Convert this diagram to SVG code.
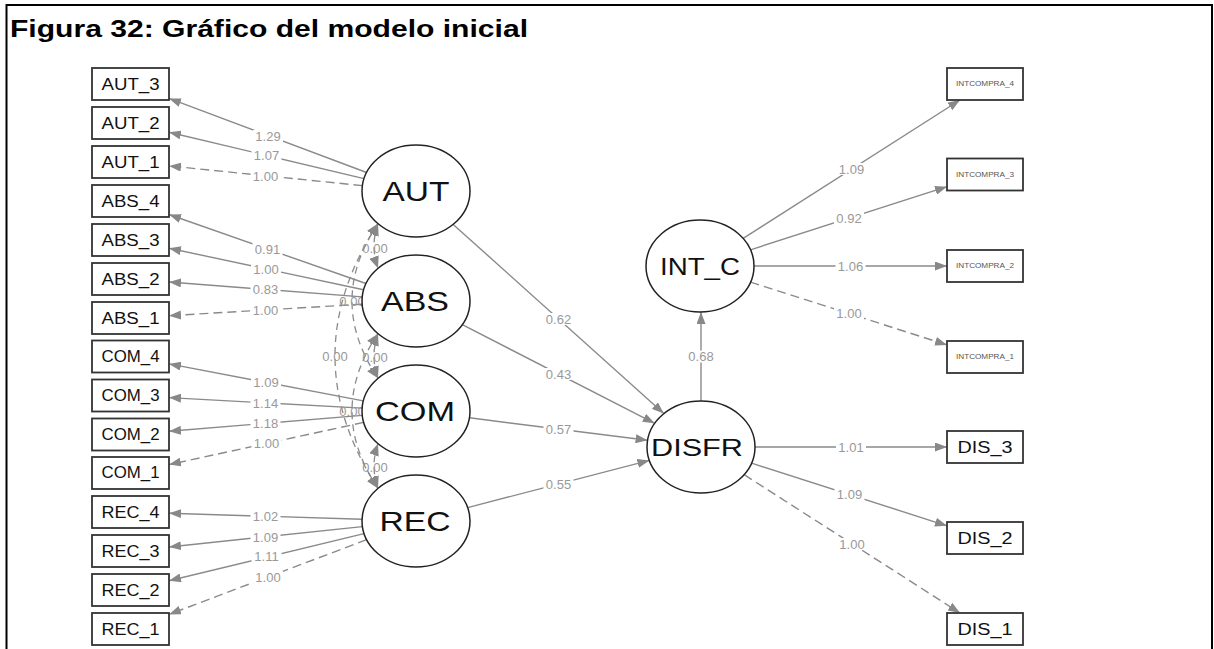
<svg xmlns="http://www.w3.org/2000/svg" width="1214" height="649" viewBox="0 0 1214 649">
  <defs>
    <marker id="arr" viewBox="0 0 12 9" refX="12" refY="4.5" markerWidth="12" markerHeight="9" markerUnits="userSpaceOnUse" orient="auto">
      <path d="M0,0 L12,4.5 L0,9 z" fill="#888"/>
    </marker>
    <marker id="arr2" viewBox="0 0 12 10" refX="12" refY="5" markerWidth="12" markerHeight="10" markerUnits="userSpaceOnUse" orient="auto-start-reverse">
      <path d="M0,0 L12,5 L0,10 z" fill="#888"/>
    </marker>
    <style>
      .frame { stroke: #000; stroke-width: 2; fill: none; }
      .title { font-family: "Liberation Sans", Arial, sans-serif; font-weight: bold; font-size: 23px; fill: #000; }
      .e { stroke: #8a8a8a; stroke-width: 1.4; fill: none; marker-end: url(#arr); }
      .d { stroke-dasharray: 9 5; }
      .cov { stroke: #8a8a8a; stroke-width: 1.3; fill: none; stroke-dasharray: 7 5; marker-start: url(#arr2); marker-end: url(#arr2); }
      .bg { fill: #fff; }
      .lbl { font-family: "Liberation Sans", Arial, sans-serif; font-size: 13px; fill: #999; text-anchor: middle; }
      .box { fill: #fff; stroke: #333; stroke-width: 1.8; }
      .lat { fill: #fff; stroke: #222; stroke-width: 1.5; }
      .bt { font-family: "Liberation Sans", Arial, sans-serif; font-size: 16px; fill: #111; text-anchor: middle; }
      .bs { font-family: "Liberation Sans", Arial, sans-serif; font-size: 6.5px; fill: #555; text-anchor: middle; }
      .lt { font-family: "Liberation Sans", Arial, sans-serif; font-size: 28px; fill: #111; text-anchor: middle; }
      .rt { font-family: "Liberation Sans", Arial, sans-serif; font-size: 24px; fill: #111; text-anchor: middle; }
    </style>
  </defs>

  <rect width="1214" height="649" fill="#fff"/>

  <!-- page frame and caption -->
  <g id="frame">
    <path class="frame" d="M6.5,649 V5 H1212 V649"/>
    <text class="title" x="10" y="37" textLength="518" lengthAdjust="spacingAndGlyphs">Figura 32: Gráfico del modelo inicial</text>
  </g>

  <!-- paths: loadings, regressions and covariances -->
  <g id="connectors">
    <!-- AUT indicators -->
    <path class="e" d="M366.6,172.5 L169,98.4"/>
    <path class="e" d="M364,178.6 L169,132.2"/>
    <path class="e d" d="M362.4,185.6 L169,165.9"/>
    <!-- ABS indicators -->
    <path class="e" d="M366,283.5 L169,214.5"/>
    <path class="e" d="M363.6,289.8 L169,248.2"/>
    <path class="e" d="M362.2,296.9 L169,282"/>
    <path class="e d" d="M362.1,304.2 L169,315.7"/>
    <!-- COM indicators -->
    <path class="e" d="M363.3,400.9 L169,363.9"/>
    <path class="e" d="M362.1,408.1 L169,397.6"/>
    <path class="e" d="M362.2,415.4 L169,431.3"/>
    <path class="e d" d="M363.7,422.4 L169,464.6"/>
    <!-- REC indicators -->
    <path class="e" d="M362,519.3 L169,513.2"/>
    <path class="e" d="M362.4,526.6 L169,547"/>
    <path class="e" d="M364,533.6 L169,580.7"/>
    <path class="e d" d="M366.6,539.7 L169,614.4"/>
    <!-- structural paths -->
    <path class="e" d="M453.2,224.4 L663.8,413.6"/>
    <path class="e" d="M462.3,324.7 L654.7,423.3"/>
    <path class="e" d="M469.4,417.8 L647.6,440.3"/>
    <path class="e" d="M467.6,507.6 L649.4,460.4"/>
    <path class="e" d="M701,401 L701,312"/>
    <!-- INT_C indicators -->
    <path class="e" d="M743.2,238.4 L960,100"/>
    <path class="e" d="M750.5,249.8 L947,186.7"/>
    <path class="e" d="M754,266 L947,266"/>
    <path class="e d" d="M750.5,282.1 L947,344.9"/>
    <!-- DISFR indicators -->
    <path class="e" d="M755,447 L947,447"/>
    <path class="e" d="M751.6,463.2 L947,525.8"/>
    <path class="e d" d="M744.2,474.7 L960,613"/>

    <!-- covariances among exogenous factors -->
    <path class="cov" d="M378,223.7 Q370,246 378,268.3"/>
    <path class="cov" d="M378,333.7 Q370,356 378,378.3"/>
    <path class="cov" d="M378,443.7 Q370,466 378,488.3"/>
    <path class="cov" d="M378,223.7 Q326,301 378,378.3"/>
    <path class="cov" d="M378,333.7 Q326,411 378,488.3"/>
    <path class="cov" d="M378,223.7 Q292,356 378,488.3"/>

    <!-- estimate labels -->
    <g id="labels">
      <rect class="bg" x="253" y="130" width="30" height="12"/><text class="lbl" x="268" y="140.5">1.29</text>
      <rect class="bg" x="251.5" y="149.5" width="30" height="12"/><text class="lbl" x="266.5" y="160">1.07</text>
      <rect class="bg" x="250.5" y="170" width="30" height="12"/><text class="lbl" x="265.5" y="180.5">1.00</text>
      <rect class="bg" x="252.5" y="243" width="30" height="12"/><text class="lbl" x="267.5" y="253.5">0.91</text>
      <rect class="bg" x="251" y="263" width="30" height="12"/><text class="lbl" x="266" y="273.5">1.00</text>
      <rect class="bg" x="250.5" y="283.5" width="30" height="12"/><text class="lbl" x="265.5" y="294">0.83</text>
      <rect class="bg" x="250.5" y="304" width="30" height="12"/><text class="lbl" x="265.5" y="314.5">1.00</text>
      <rect class="bg" x="251" y="376.5" width="30" height="12"/><text class="lbl" x="266" y="387">1.09</text>
      <rect class="bg" x="250.5" y="397" width="30" height="12"/><text class="lbl" x="265.5" y="407.5">1.14</text>
      <rect class="bg" x="250.5" y="417.5" width="30" height="12"/><text class="lbl" x="265.5" y="428">1.18</text>
      <rect class="bg" x="251.5" y="437.5" width="30" height="12"/><text class="lbl" x="266.5" y="448">1.00</text>
      <rect class="bg" x="250.5" y="510" width="30" height="12"/><text class="lbl" x="265.5" y="520.5">1.02</text>
      <rect class="bg" x="250.5" y="531" width="30" height="12"/><text class="lbl" x="265.5" y="541.5">1.09</text>
      <rect class="bg" x="251.5" y="550" width="30" height="12"/><text class="lbl" x="266.5" y="560.5">1.11</text>
      <rect class="bg" x="253" y="571" width="30" height="12"/><text class="lbl" x="268" y="581.5">1.00</text>

      <rect class="bg" x="543.5" y="313" width="30" height="12"/><text class="lbl" x="558.5" y="323.5">0.62</text>
      <rect class="bg" x="543.5" y="368" width="30" height="12"/><text class="lbl" x="558.5" y="378.5">0.43</text>
      <rect class="bg" x="543.5" y="423" width="30" height="12"/><text class="lbl" x="558.5" y="433.5">0.57</text>
      <rect class="bg" x="543.5" y="478" width="30" height="12"/><text class="lbl" x="558.5" y="488.5">0.55</text>
      <rect class="bg" x="686" y="350.5" width="30" height="12"/><text class="lbl" x="701" y="361">0.68</text>

      <rect class="bg" x="836.5" y="163" width="30" height="12"/><text class="lbl" x="851.5" y="173.5">1.09</text>
      <rect class="bg" x="834" y="212" width="30" height="12"/><text class="lbl" x="849" y="222.5">0.92</text>
      <rect class="bg" x="835.5" y="260" width="30" height="12"/><text class="lbl" x="850.5" y="270.5">1.06</text>
      <rect class="bg" x="834" y="307.5" width="30" height="12"/><text class="lbl" x="849" y="318">1.00</text>
      <rect class="bg" x="836" y="441" width="30" height="12"/><text class="lbl" x="851" y="451.5">1.01</text>
      <rect class="bg" x="834.5" y="488.5" width="30" height="12"/><text class="lbl" x="849.5" y="499">1.09</text>
      <rect class="bg" x="837" y="538" width="30" height="12"/><text class="lbl" x="852" y="548.5">1.00</text>

      <text class="lbl" x="375" y="252.5">0.00</text>
      <text class="lbl" x="375" y="361.5">0.00</text>
      <text class="lbl" x="375" y="471.5">0.00</text>
      <text class="lbl" x="352" y="305.5">0.00</text>
      <text class="lbl" x="352" y="415.5">0.00</text>
      <text class="lbl" x="335" y="360.5">0.00</text>
    </g>
  </g>

  <!-- observed indicators, left column -->
  <g id="AUT_3"><rect class="box" x="92" y="68" width="77" height="32"/><text class="bt" x="130.5" y="89.8" textLength="58" lengthAdjust="spacingAndGlyphs">AUT_3</text></g>
  <g id="AUT_2"><rect class="box" x="92" y="107" width="77" height="32"/><text class="bt" x="130.5" y="128.8" textLength="58" lengthAdjust="spacingAndGlyphs">AUT_2</text></g>
  <g id="AUT_1"><rect class="box" x="92" y="146" width="77" height="32"/><text class="bt" x="130.5" y="167.8" textLength="58" lengthAdjust="spacingAndGlyphs">AUT_1</text></g>
  <g id="ABS_4"><rect class="box" x="92" y="185" width="77" height="32"/><text class="bt" x="130.5" y="206.8" textLength="58" lengthAdjust="spacingAndGlyphs">ABS_4</text></g>
  <g id="ABS_3"><rect class="box" x="92" y="224" width="77" height="32"/><text class="bt" x="130.5" y="245.8" textLength="58" lengthAdjust="spacingAndGlyphs">ABS_3</text></g>
  <g id="ABS_2"><rect class="box" x="92" y="263" width="77" height="32"/><text class="bt" x="130.5" y="284.8" textLength="58" lengthAdjust="spacingAndGlyphs">ABS_2</text></g>
  <g id="ABS_1"><rect class="box" x="92" y="302" width="77" height="32"/><text class="bt" x="130.5" y="323.8" textLength="58" lengthAdjust="spacingAndGlyphs">ABS_1</text></g>
  <g id="COM_4"><rect class="box" x="92" y="340.5" width="77" height="32"/><text class="bt" x="130.5" y="361.5" font-size="14" textLength="58" lengthAdjust="spacingAndGlyphs">COM_4</text></g>
  <g id="COM_3"><rect class="box" x="92" y="379.5" width="77" height="32"/><text class="bt" x="130.5" y="400.5" font-size="14" textLength="58" lengthAdjust="spacingAndGlyphs">COM_3</text></g>
  <g id="COM_2"><rect class="box" x="92" y="418.5" width="77" height="32"/><text class="bt" x="130.5" y="439.5" font-size="14" textLength="58" lengthAdjust="spacingAndGlyphs">COM_2</text></g>
  <g id="COM_1"><rect class="box" x="92" y="457" width="77" height="32"/><text class="bt" x="130.5" y="478" font-size="14" textLength="58" lengthAdjust="spacingAndGlyphs">COM_1</text></g>
  <g id="REC_4"><rect class="box" x="92" y="496" width="77" height="32"/><text class="bt" x="130.5" y="517.8" textLength="58" lengthAdjust="spacingAndGlyphs">REC_4</text></g>
  <g id="REC_3"><rect class="box" x="92" y="535" width="77" height="32"/><text class="bt" x="130.5" y="556.8" textLength="58" lengthAdjust="spacingAndGlyphs">REC_3</text></g>
  <g id="REC_2"><rect class="box" x="92" y="574" width="77" height="32"/><text class="bt" x="130.5" y="595.8" textLength="58" lengthAdjust="spacingAndGlyphs">REC_2</text></g>
  <g id="REC_1"><rect class="box" x="92" y="613" width="77" height="32"/><text class="bt" x="130.5" y="634.8" textLength="58" lengthAdjust="spacingAndGlyphs">REC_1</text></g>

  <!-- latent factors -->
  <g id="AUT"><ellipse class="lat" cx="416" cy="191" rx="54" ry="46"/><text class="lt" x="416" y="201" textLength="67" lengthAdjust="spacingAndGlyphs">AUT</text></g>
  <g id="ABS"><ellipse class="lat" cx="416" cy="301" rx="54" ry="46"/><text class="lt" x="415" y="311" textLength="68" lengthAdjust="spacingAndGlyphs">ABS</text></g>
  <g id="COM"><ellipse class="lat" cx="416" cy="411" rx="54" ry="46"/><text class="lt" x="415" y="421" textLength="80" lengthAdjust="spacingAndGlyphs">COM</text></g>
  <g id="REC"><ellipse class="lat" cx="416" cy="521" rx="54" ry="46"/><text class="lt" x="415" y="531" textLength="71" lengthAdjust="spacingAndGlyphs">REC</text></g>
  <g id="DISFR"><ellipse class="lat" cx="701" cy="447" rx="54" ry="46"/><text class="rt" x="697" y="455.6" textLength="92" lengthAdjust="spacingAndGlyphs">DISFR</text></g>
  <g id="INT_C"><ellipse class="lat" cx="700" cy="266" rx="54" ry="46"/><text class="rt" x="700" y="274.6" textLength="80" lengthAdjust="spacingAndGlyphs">INT_C</text></g>

  <!-- observed indicators, right column -->
  <g id="INTCOMPRA_4"><rect class="box" x="947" y="68" width="76" height="32"/><text class="bs" x="985" y="86.3" textLength="58" lengthAdjust="spacingAndGlyphs">INTCOMPRA_4</text></g>
  <g id="INTCOMPRA_3"><rect class="box" x="947" y="158.5" width="76" height="32"/><text class="bs" x="985" y="176.8" textLength="58" lengthAdjust="spacingAndGlyphs">INTCOMPRA_3</text></g>
  <g id="INTCOMPRA_2"><rect class="box" x="947" y="250" width="76" height="32"/><text class="bs" x="985" y="268.3" textLength="58" lengthAdjust="spacingAndGlyphs">INTCOMPRA_2</text></g>
  <g id="INTCOMPRA_1"><rect class="box" x="947" y="341" width="76" height="32"/><text class="bs" x="985" y="359.3" textLength="58" lengthAdjust="spacingAndGlyphs">INTCOMPRA_1</text></g>
  <g id="DIS_3"><rect class="box" x="947" y="431" width="76" height="32"/><text class="bt" x="985" y="452.5" font-size="15" textLength="55" lengthAdjust="spacingAndGlyphs">DIS_3</text></g>
  <g id="DIS_2"><rect class="box" x="947" y="522" width="76" height="32"/><text class="bt" x="985" y="543.5" font-size="15" textLength="55" lengthAdjust="spacingAndGlyphs">DIS_2</text></g>
  <g id="DIS_1"><rect class="box" x="947" y="613" width="76" height="32"/><text class="bt" x="985" y="634.5" font-size="15" textLength="55" lengthAdjust="spacingAndGlyphs">DIS_1</text></g>
</svg>
